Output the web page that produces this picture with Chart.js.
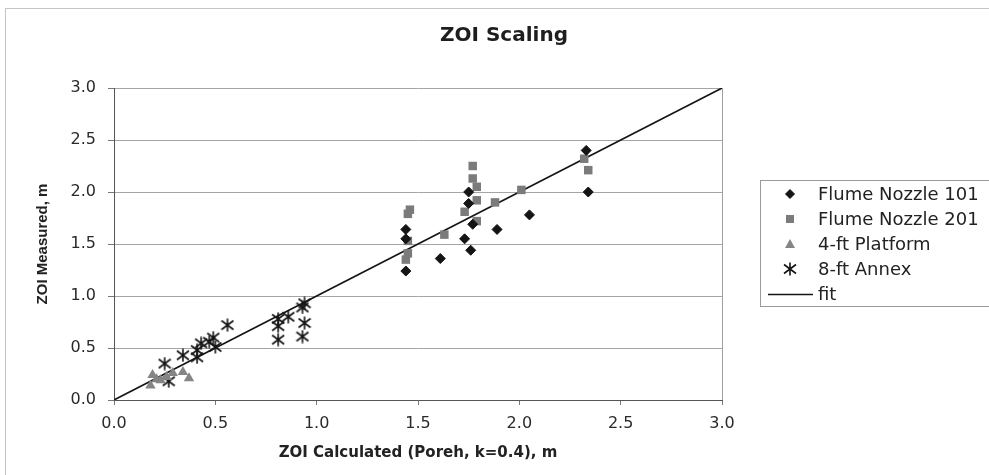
<!DOCTYPE html>
<html>
<head>
<meta charset="utf-8">
<script src="https://cdn.jsdelivr.net/npm/chart.js@4/dist/chart.umd.min.js"></script>
<style>
  html, body { margin: 0; padding: 0; background: #ffffff; }
  #c { display: block; }
</style>
</head>
<body>
<canvas id="c" width="989" height="475"></canvas>
<script>
// ---- Data ----
const seriesNames = ["Flume Nozzle 101", "Flume Nozzle 201", "4-ft Platform", "8-ft Annex", "fit"];

const flume101X = [1.44, 1.44, 1.44, 1.61, 1.75, 1.75, 1.73, 1.76, 1.77, 1.89, 2.05, 2.33, 2.34];
const flume101Y = [1.64, 1.55, 1.24, 1.36, 2.00, 1.89, 1.55, 1.44, 1.69, 1.64, 1.78, 2.40, 2.00];

const flume201X = [1.46, 1.45, 1.45, 1.45, 1.44, 1.63, 1.77, 1.77, 1.79, 1.79, 1.73, 1.79, 1.88, 2.01, 2.32, 2.34];
const flume201Y = [1.83, 1.79, 1.53, 1.41, 1.35, 1.59, 2.25, 2.13, 2.05, 1.92, 1.81, 1.72, 1.90, 2.02, 2.32, 2.21];

const platformX = [0.18, 0.19, 0.21, 0.23, 0.26, 0.29, 0.34, 0.37];
const platformY = [0.14, 0.24, 0.20, 0.19, 0.22, 0.26, 0.27, 0.21];

const annexX = [0.56, 0.49, 0.43, 0.50, 0.47, 0.41, 0.41, 0.34, 0.25, 0.27, 0.94, 0.93, 0.94, 0.93, 0.81, 0.86, 0.81, 0.81];
const annexY = [0.72, 0.60, 0.545, 0.51, 0.56, 0.48, 0.41, 0.43, 0.35, 0.18, 0.93, 0.89, 0.74, 0.61, 0.78, 0.80, 0.71, 0.58];

const fitX = [0, 3];
const fitY = [0, 3];

const xTicks = [0, 0.5, 1.0, 1.5, 2.0, 2.5, 3.0];
const yTicks = [0, 0.5, 1.0, 1.5, 2.0, 2.5, 3.0];

const chartTitle = "ZOI Scaling";
const xTitle = "ZOI Calculated (Poreh, k=0.4), m";
const yTitle = "ZOI Measured, m";

// ---- helpers ----
function pts(xs, ys) { return xs.map((x, i) => ({ x: x, y: ys[i] })); }

// asterisk marker (X with vertical bar)
const asterisk = document.createElement('canvas');
asterisk.width = 14; asterisk.height = 14;
(function () {
  const g = asterisk.getContext('2d');
  g.strokeStyle = '#141414';
  g.lineWidth = 1.6;
  g.beginPath();
  g.moveTo(7, 0.5); g.lineTo(7, 13.5);
  g.moveTo(1, 2.5); g.lineTo(13, 11.5);
  g.moveTo(1, 11.5); g.lineTo(13, 2.5);
  g.stroke();
})();

const PLOT_LEFT = 114, PLOT_RIGHT = 722, PLOT_BOTTOM = 400, W = 989, H = 475;

const framePlugin = {
  id: 'frame',
  beforeDraw(chart) {
    const ctx = chart.ctx;
    ctx.save();
    ctx.fillStyle = '#ffffff';
    ctx.fillRect(0, 0, chart.width, chart.height);
    ctx.strokeStyle = '#c4c4c4';
    ctx.lineWidth = 1;
    ctx.beginPath();
    ctx.moveTo(5, 8.5); ctx.lineTo(chart.width, 8.5);
    ctx.moveTo(5.5, 8); ctx.lineTo(5.5, chart.height);
    ctx.stroke();
    ctx.restore();
  },
  beforeDatasetsDraw(chart) {
    const a = chart.chartArea, ctx = chart.ctx;
    ctx.save();
    ctx.strokeStyle = '#a0a0a0';
    ctx.lineWidth = 1;
    ctx.beginPath();
    ctx.moveTo(Math.round(a.right) + 0.5, a.top);
    ctx.lineTo(Math.round(a.right) + 0.5, a.bottom);
    ctx.stroke();
    ctx.restore();
  }
};

function drawLegendMarker(ctx, ds, x, y) {
  ctx.save();
  ctx.fillStyle = ds.backgroundColor;
  ctx.strokeStyle = ds.borderColor;
  ctx.lineWidth = 1;
  const s = ds.pointStyle;
  if (ds.type === 'line') {
    ctx.strokeStyle = ds.borderColor;
    ctx.lineWidth = 1.5;
    ctx.beginPath();
    ctx.moveTo(x - 22, y + 0.5); ctx.lineTo(x + 23, y + 0.5);
    ctx.stroke();
  } else if (s === 'rectRot') {
    const r = 4.5;
    ctx.beginPath();
    ctx.moveTo(x, y - r); ctx.lineTo(x + r, y); ctx.lineTo(x, y + r); ctx.lineTo(x - r, y);
    ctx.closePath(); ctx.fill(); ctx.stroke();
  } else if (s === 'rect') {
    ctx.fillRect(x - 4, y - 4, 8, 8);
  } else if (s === 'triangle') {
    ctx.beginPath();
    ctx.moveTo(x, y - 5); ctx.lineTo(x + 5, y + 4); ctx.lineTo(x - 5, y + 4);
    ctx.closePath(); ctx.fill();
  } else if (s instanceof HTMLCanvasElement) {
    ctx.drawImage(s, x - s.width / 2, y - s.height / 2);
  }
  ctx.restore();
}

const legendPlugin = {
  id: 'boxLegend',
  afterDraw(chart) {
    const ctx = chart.ctx;
    const left = 760.5, top = 180.5, bottom = 306.5;
    ctx.save();
    ctx.strokeStyle = '#9a9a9a';
    ctx.lineWidth = 1;
    ctx.strokeRect(left, top, chart.width + 5 - left, bottom - top);
    ctx.font = '18px "DejaVu Sans"';
    ctx.textBaseline = 'middle';
    ctx.textAlign = 'left';
    chart.data.datasets.forEach((ds, i) => {
      const y = 194 + i * 25;
      drawLegendMarker(ctx, ds, 790, y);
      ctx.fillStyle = '#222222';
      ctx.fillText(ds.label, 818, y + 1);
    });
    ctx.restore();
  }
};

const ctx = document.getElementById('c').getContext('2d');
new Chart(ctx, {
  type: 'scatter',
  data: {
    datasets: [
      {
        label: seriesNames[0], data: pts(flume101X, flume101Y),
        pointStyle: 'rectRot', pointRadius: 5, pointHoverRadius: 5,
        backgroundColor: '#141414', borderColor: '#141414', borderWidth: 1
      },
      {
        label: seriesNames[1], data: pts(flume201X, flume201Y),
        pointStyle: 'rect', pointRadius: 6, pointHoverRadius: 6,
        backgroundColor: '#7b7b7b', borderColor: '#7b7b7b', borderWidth: 0
      },
      {
        label: seriesNames[2], data: pts(platformX, platformY),
        pointStyle: 'triangle', pointRadius: 6, pointHoverRadius: 6,
        backgroundColor: '#858585', borderColor: '#858585', borderWidth: 0
      },
      {
        label: seriesNames[3], data: pts(annexX, annexY),
        pointStyle: asterisk, pointRadius: 7,
        backgroundColor: '#141414', borderColor: '#141414'
      },
      {
        type: 'line', label: seriesNames[4], data: pts(fitX, fitY),
        borderColor: '#151515', backgroundColor: '#151515', borderWidth: 1.6,
        pointRadius: 0, fill: false, showLine: true, tension: 0
      }
    ]
  },
  options: {
    responsive: false,
    animation: false,
    events: [],
    layout: { padding: { left: 19, right: 0, top: 0, bottom: 0 } },
    plugins: {
      legend: { display: false },
      tooltip: { enabled: false },
      title: {
        display: true, text: chartTitle, color: '#1e1e1e',
        font: { family: 'DejaVu Sans', size: 20, weight: 'bold' },
        padding: { top: 24, bottom: 40 }
      }
    },
    scales: {
      x: {
        type: 'linear', min: 0, max: 3,
        afterBuildTicks(s) { s.ticks = xTicks.map(v => ({ value: v })); },
        afterFit(s) { s.height = H - PLOT_BOTTOM; },
        ticks: {
          color: '#2a2a2a', padding: 9,
          font: { family: 'DejaVu Sans', size: 16 },
          callback: v => Number(v).toFixed(1)
        },
        grid: { display: true, drawOnChartArea: false, drawTicks: true, tickLength: 5, tickColor: '#777' },
        border: { display: true, color: '#555', width: 1 },
        title: {
          display: true, text: xTitle, color: '#222',
          font: { family: 'DejaVu Sans', size: 15, weight: 'bold' },
          padding: { top: 0, bottom: 13 }
        }
      },
      y: {
        type: 'linear', min: 0, max: 3, position: 'left',
        afterBuildTicks(s) { s.ticks = yTicks.map(v => ({ value: v })); },
        afterFit(s) { s.width = PLOT_LEFT - 19; },
        ticks: {
          color: '#2a2a2a', padding: 12,
          font: { family: 'DejaVu Sans', size: 16 },
          callback: v => Number(v).toFixed(1)
        },
        grid: { display: true, color: '#a4a4a4', lineWidth: 1, drawTicks: true, tickLength: 6, tickColor: '#777' },
        border: { display: true, color: '#555', width: 1 },
        title: {
          display: true, text: yTitle, color: '#222',
          font: { family: 'Liberation Sans', size: 15, weight: 'bold' },
          padding: { top: 15, bottom: 0 }
        }
      },
      yRight: {
        type: 'linear', position: 'right', display: true,
        grid: { display: false, drawTicks: false },
        border: { display: false },
        ticks: { display: false },
        afterFit(s) { s.width = W - PLOT_RIGHT; }
      }
    }
  },
  plugins: [framePlugin, legendPlugin]
});
</script>
</body>
</html>
